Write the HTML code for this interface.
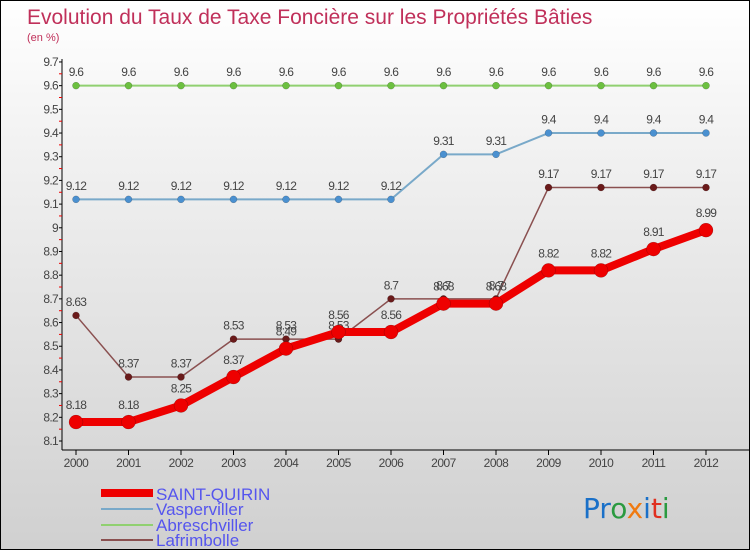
<!DOCTYPE html>
<html><head><meta charset="utf-8"><style>
html,body{margin:0;padding:0}
body{width:750px;height:550px;overflow:hidden;font-family:"Liberation Sans",sans-serif}
#wrap{position:relative;width:748px;height:548px;border:1px solid #000;background:linear-gradient(#ffffff,#f0f0f0 30%,#d0d0d0)}
svg{position:absolute;left:0;top:0}
</style></head><body>
<div id="wrap">
<svg id="c" width="750" height="550">
<text x="26" y="23" font-size="21" fill="#c0305a">Evolution du Taux de Taxe Foncière sur les Propriétés Bâties</text>
<text x="26" y="40" font-size="11" fill="#c0305a">(en %)</text>
<g>
<rect x="100" y="488" width="52" height="8" fill="#e00"/>
<text x="155" y="499" font-size="17" fill="#5555ee">SAINT-QUIRIN</text>
<rect x="100" y="507" width="52" height="2" fill="#79a9c9"/>
<text x="155" y="514" font-size="17" fill="#5555ee">Vasperviller</text>
<rect x="100" y="523" width="52" height="2" fill="#90d070"/>
<text x="155" y="530" font-size="17" fill="#5555ee">Abreschviller</text>
<rect x="100" y="538" width="52" height="2" fill="#8a5050"/>
<text x="155" y="545" font-size="17" fill="#5555ee">Lafrimbolle</text>
</g>
<text x="582" y="517" font-size="28" font-family="DejaVu Sans, sans-serif"><tspan fill="#1a70c8">Pr</tspan><tspan fill="#2a9a40">o</tspan><tspan fill="#f07a10">x</tspan><tspan fill="#1a70c8">i</tspan><tspan fill="#e03020">t</tspan><tspan fill="#2a9a40">i</tspan></text>
</svg>
</div>
<script>
const years=[2000,2001,2002,2003,2004,2005,2006,2007,2008,2009,2010,2011,2012];
const yTicks=[8.1,8.2,8.3,8.4,8.5,8.6,8.7,8.8,8.9,9,9.1,9.2,9.3,9.4,9.5,9.6,9.7];
const saintQuirin=[8.18,8.18,8.25,8.37,8.49,8.56,8.56,8.68,8.68,8.82,8.82,8.91,8.99];
const vasperviller=[9.12,9.12,9.12,9.12,9.12,9.12,9.12,9.31,9.31,9.4,9.4,9.4,9.4];
const abreschviller=[9.6,9.6,9.6,9.6,9.6,9.6,9.6,9.6,9.6,9.6,9.6,9.6,9.6];
const lafrimbolle=[8.63,8.37,8.37,8.53,8.53,8.53,8.7,8.7,8.7,9.17,9.17,9.17,9.17];

const svg=document.getElementById('c');const NS='http://www.w3.org/2000/svg';
const x=i=>75+i*52.5;
const y=v=>440-(v-8.1)/0.1*23.69;
function mk(t,a,p){const e=document.createElementNS(NS,t);for(const k in a)e.setAttribute(k,a[k]);(p||svg).appendChild(e);return e;}
const ax=mk('g',{});


const yl=mk('line',{x1:61,y1:58,x2:61,y2:449,stroke:'#000','stroke-width':1},ax);


const xl=mk('line',{x1:61,y1:449,x2:750,y2:449,stroke:'#000','stroke-width':1},ax);


yTicks.forEach((t,i)=>{
  mk('line',{x1:58,x2:61,y1:y(t),y2:y(t),stroke:'#000'},ax);
  if(i<yTicks.length-1)mk('line',{x1:58,x2:61,y1:y(t+0.05),y2:y(t+0.05),stroke:'#e00'},ax);
  const tx=mk('text',{x:57,y:y(t)+4,'font-size':12,fill:'#444','text-anchor':'end','letter-spacing':'-0.7'},ax);
  tx.textContent=String(t);
  
  
});
years.forEach((yr,i)=>{
  mk('line',{x1:x(i),x2:x(i),y1:449,y2:454,stroke:'#000'},ax);
  const tx=mk('text',{x:x(i),y:466,'font-size':12,fill:'#444','text-anchor':'middle','letter-spacing':'-0.5'},ax);
  tx.textContent=yr;
  
  
});
function series(name,data,color,w,r,dotColor){
  const g=mk('g',{});
  
  
  const pl=mk('polyline',{points:data.map((v,i)=>x(i)+','+y(v)).join(' '),fill:'none',stroke:color,'stroke-width':w,'stroke-linejoin':'round'},g);
  
  
  data.forEach((v,i)=>{
    const c=mk('circle',{cx:x(i),cy:y(v),r:r,fill:dotColor,stroke:'rgba(0,0,0,0.3)','stroke-width':0.5},g);
    
    
    const t=mk('text',{x:x(i),y:y(v)-r-6,'font-size':12,fill:'#444','text-anchor':'middle','letter-spacing':'-0.7'},g);
    t.textContent=String(v);
    
    
  });
}
series('abreschviller',abreschviller,'#90d070',2,3.5,'#6cc040');
series('vasperviller',vasperviller,'#79a9c9',2,3.5,'#4a90d0');
series('lafrimbolle',lafrimbolle,'#8a5050',1.5,3.5,'#6a1a1a');
series('saint-quirin',saintQuirin,'#ee0000',8,7,'#ee0000');
</script>
</body></html>
